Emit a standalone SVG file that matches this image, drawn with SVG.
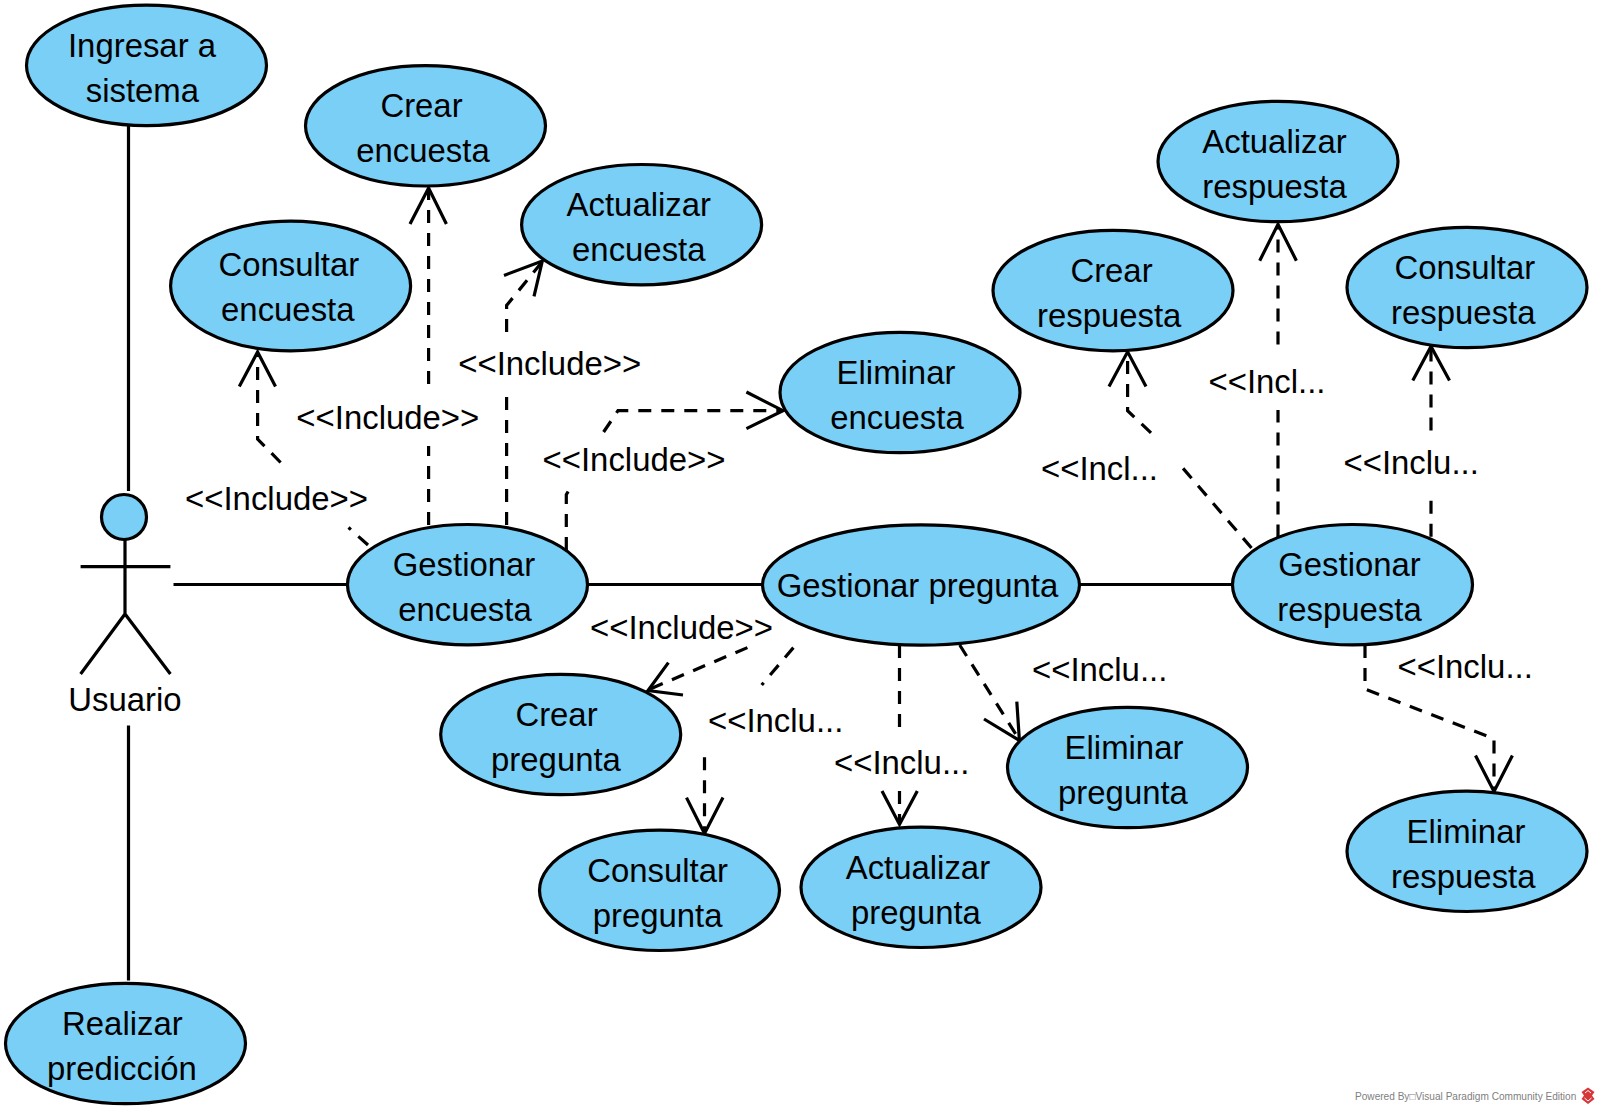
<svg xmlns="http://www.w3.org/2000/svg" width="1599" height="1113" viewBox="0 0 1599 1113">
<style>
.u{fill:#7acff6;stroke:#000;stroke-width:3.2}
text{font-family:"Liberation Sans",Arial,sans-serif;font-size:32.9px;fill:#000}
.t{text-anchor:middle}
.s{fill:none;stroke:#000;stroke-width:3.2}
.d{fill:none;stroke:#000;stroke-width:3.2;stroke-dasharray:13 10}
.a{fill:none;stroke:#000;stroke-width:3.2}
</style>
<rect width="1599" height="1113" fill="#fff"/>
<g id="connectors">
<path class="s" d="M128.5 126V491M128.5 725.5V980.5M173.5 584.5H347M588 584.5H763M1080 584.5H1232"/>
<path class="d" d="M428.6 525V446M428.6 384V190"/><path class="a" d="M410 224L428.6 188L446.4 224"/>
<path class="d" d="M506.6 525V395M506.6 332V305.4L542 262"/><path class="a" d="M504 275.4L542.3 261L534 296.4"/>
<path class="d" d="M368 545L348.5 527.5M280.6 462.5L257.6 439V354"/><path class="a" d="M239.3 386.4L257.6 352L275.5 386.4"/>
<path class="d" d="M566.3 550V494.6L572.5 484M603.6 432L618 410.7H781"/><path class="a" d="M746.4 392L783 410.7L746.4 428.6"/>
<path class="d" d="M747.4 647.6L650 689"/><path class="a" d="M668.4 662.6L648 690.5L683 695"/>
<path class="d" d="M793.4 647.6L761.7 685M704.5 757.3V831"/><path class="a" d="M686.5 797.6L704.5 833.4L723 797.6"/>
<path class="d" d="M899.5 645V728M899.5 791V822"/><path class="a" d="M882 791L899.5 824.4L917.3 791"/>
<path class="d" d="M959.7 645L1018.5 738.5"/><path class="a" d="M984 719L1019.4 740.5L1016.8 701.6"/>
<path class="d" d="M1365 645V689L1494 738.7V789"/><path class="a" d="M1475.5 755.5L1494 791.6L1512.4 755.5"/>
<path class="d" d="M1278 537.5V410M1278 344.6V226"/><path class="a" d="M1259.7 260.7L1278 224.3L1296.4 260.7"/>
<path class="d" d="M1251.5 548L1182.7 467.9M1151 432.9L1127.6 410.7V354"/><path class="a" d="M1109 386.4L1127.6 351.8L1146 386.4"/>
<path class="d" d="M1431 536.8V500M1431 430.4V348"/><path class="a" d="M1412.8 380.4L1431 346.4L1449.5 380.4"/>
<text class="t" x="276.5" y="509.6">&lt;&lt;Include&gt;&gt;</text>
<text class="t" x="387.8" y="428.9">&lt;&lt;Include&gt;&gt;</text>
<text class="t" x="549.7" y="375">&lt;&lt;Include&gt;&gt;</text>
<text class="t" x="634" y="471">&lt;&lt;Include&gt;&gt;</text>
<text class="t" x="681.5" y="639">&lt;&lt;Include&gt;&gt;</text>
<text x="708" y="731.5">&lt;&lt;Inclu...</text>
<text x="834" y="774">&lt;&lt;Inclu...</text>
<text x="1032" y="681">&lt;&lt;Inclu...</text>
<text x="1397.5" y="678">&lt;&lt;Inclu...</text>
<text x="1208.5" y="393">&lt;&lt;Incl...</text>
<text x="1041" y="480">&lt;&lt;Incl...</text>
<text x="1343.5" y="474">&lt;&lt;Inclu...</text>
</g>
<g id="actor-usuario">
<ellipse class="u" cx="124" cy="517" rx="22.5" ry="22.5"/>
<path class="s" d="M125 539V614M80.6 566.6H170.4M80.6 674L125 614L170.4 674"/>
<text class="t" x="125" y="711">Usuario</text>
</g>
<g id="uc-ingresar"><ellipse class="u" cx="146.5" cy="65.4" rx="120" ry="60.2"/><text class="t" x="142" y="57.4">Ingresar a</text><text class="t" x="142.4" y="102">sistema</text></g>
<g id="uc-crear-encuesta"><ellipse class="u" cx="425.5" cy="125.8" rx="120" ry="60.2"/><text class="t" x="421.5" y="117.4">Crear</text><text class="t" x="423" y="162.4">encuesta</text></g>
<g id="uc-actualizar-encuesta"><ellipse class="u" cx="641.6" cy="224.7" rx="120" ry="60.2"/><text class="t" x="638.8" y="216.4">Actualizar</text><text class="t" x="638.8" y="261.4">encuesta</text></g>
<g id="uc-consultar-encuesta"><ellipse class="u" cx="290.6" cy="286" rx="120" ry="64.8"/><text class="t" x="288.8" y="276.4">Consultar</text><text class="t" x="287.8" y="321.4">encuesta</text></g>
<g id="uc-eliminar-encuesta"><ellipse class="u" cx="900" cy="392.5" rx="120" ry="60.2"/><text class="t" x="896" y="384">Eliminar</text><text class="t" x="897" y="429">encuesta</text></g>
<g id="uc-gestionar-encuesta"><ellipse class="u" cx="467.5" cy="584.7" rx="120" ry="60.2"/><text class="t" x="464" y="576">Gestionar</text><text class="t" x="465" y="621">encuesta</text></g>
<g id="uc-gestionar-pregunta"><ellipse class="u" cx="921" cy="585" rx="158.5" ry="60.2"/><text class="t" x="917.5" y="597">Gestionar pregunta</text></g>
<g id="uc-gestionar-respuesta"><ellipse class="u" cx="1352.5" cy="584.7" rx="120" ry="60.2"/><text class="t" x="1349.5" y="576">Gestionar</text><text class="t" x="1349.5" y="621">respuesta</text></g>
<g id="uc-crear-pregunta"><ellipse class="u" cx="560.7" cy="734.5" rx="120" ry="60.2"/><text class="t" x="556.5" y="725.8">Crear</text><text class="t" x="556" y="771">pregunta</text></g>
<g id="uc-consultar-pregunta"><ellipse class="u" cx="659.5" cy="890.3" rx="120" ry="60.2"/><text class="t" x="657.6" y="881.6">Consultar</text><text class="t" x="657.6" y="927">pregunta</text></g>
<g id="uc-actualizar-pregunta"><ellipse class="u" cx="921" cy="887.3" rx="120" ry="60.2"/><text class="t" x="917.9" y="879">Actualizar</text><text class="t" x="916" y="924">pregunta</text></g>
<g id="uc-eliminar-pregunta"><ellipse class="u" cx="1127.5" cy="767.5" rx="120" ry="60.2"/><text class="t" x="1124" y="759">Eliminar</text><text class="t" x="1123" y="804">pregunta</text></g>
<g id="uc-crear-respuesta"><ellipse class="u" cx="1113" cy="290.6" rx="120" ry="60.2"/><text class="t" x="1111.5" y="282.4">Crear</text><text class="t" x="1109.2" y="327.4">respuesta</text></g>
<g id="uc-actualizar-respuesta"><ellipse class="u" cx="1278" cy="161.5" rx="120" ry="60.2"/><text class="t" x="1274.5" y="152.8">Actualizar</text><text class="t" x="1274.5" y="197.8">respuesta</text></g>
<g id="uc-consultar-respuesta"><ellipse class="u" cx="1467" cy="287.5" rx="120" ry="60.2"/><text class="t" x="1464.8" y="278.6">Consultar</text><text class="t" x="1463.3" y="324">respuesta</text></g>
<g id="uc-eliminar-respuesta"><ellipse class="u" cx="1467" cy="851.3" rx="120" ry="60.2"/><text class="t" x="1466" y="843">Eliminar</text><text class="t" x="1463.3" y="888">respuesta</text></g>
<g id="uc-realizar"><ellipse class="u" cx="125.5" cy="1043.5" rx="120" ry="60.2"/><text class="t" x="122.4" y="1035.3">Realizar</text><text class="t" x="121.9" y="1080.3">predicción</text></g>
<g id="footer">
<text x="1355" y="1100" style="font-size:10.1px;fill:#808080">Powered By□Visual Paradigm Community Edition</text>
<path d="M1588 1087.5L1594.5 1092L1592 1095.5L1594.5 1099L1588 1104L1581.5 1099L1584 1095.5L1581.5 1092Z" fill="#d6353a"/>
<path d="M1585 1093L1588 1090.5L1591 1093M1584.5 1098L1588 1101L1591.5 1098" fill="none" stroke="#fff" stroke-width="1"/>
</g>
</svg>
